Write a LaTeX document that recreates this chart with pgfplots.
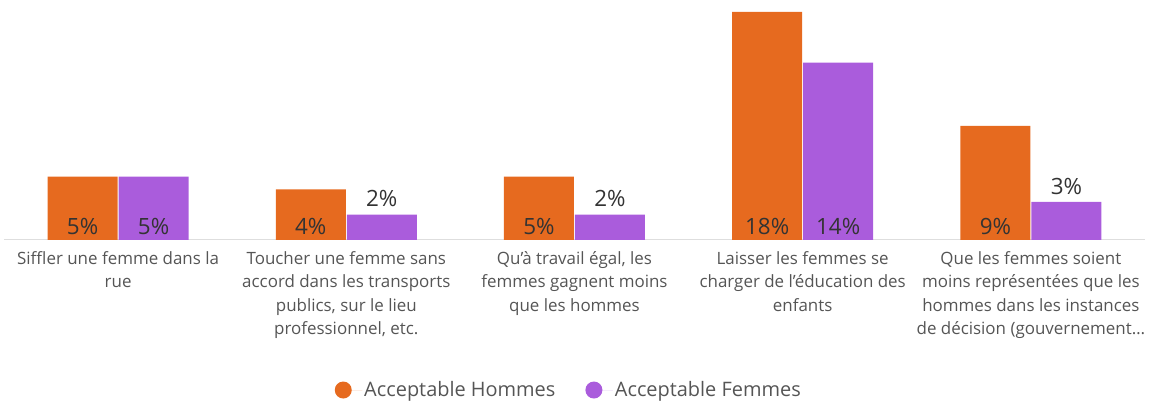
\documentclass[border=0pt]{standalone}
\usepackage{pgfplots}
\pgfplotsset{compat=1.18}
\usepackage{fontspec}
\setmainfont{Open Sans}
\definecolor{orangeH}{HTML}{E66A1F}
\definecolor{purpleF}{HTML}{AA5CDC}
\definecolor{txt}{HTML}{555555}
\definecolor{lbl}{HTML}{333333}
\begin{document}
\begin{tikzpicture}
\path[use as bounding box] (0,0) rectangle (1149bp,405bp);
\begin{axis}[
  at={(4bp,165bp)}, anchor=south west,
  scale only axis, width=1141bp, height=228bp,
  xmin=-0.5, xmax=4.5, ymin=0, ymax=18,
  axis x line=bottom, axis y line=none,
  x axis line style={-, draw=black!13, line width=1bp},
  xtick={0,1,2,3,4}, xtick style={draw=none},
  xticklabels={
    {Siffler une femme dans la\\rue},
    {Toucher une femme sans\\accord dans les transports\\publics, sur le lieu\\professionnel, etc.},
    {Qu’à travail égal, les\\femmes gagnent moins\\que les hommes},
    {Laisser les femmes se\\charger de l’éducation des\\enfants},
    {Que les femmes soient\\moins représentées que les\\hommes dans les instances\\de décision (gouvernement…}},
  xticklabel style={align=center, font=\fontsize{17}{23.5}\selectfont, text=txt, anchor=north, inner sep=0pt, yshift=-9bp},
  ytick=\empty,
  /pgf/number format/assume math mode=true,
  clip=false,
  legend columns=2,
  legend style={at={(0.495,-0.658)}, anchor=center, draw=none, fill=none,
    font=\fontsize{20}{22}\selectfont, text=txt,
    /tikz/every even column/.append style={column sep=28bp}},
  legend cell align=left,
  legend image code/.code={\fill[#1, draw=none] (0bp,0bp) circle (8.5bp); \path (-8.5bp,0bp) -- (19bp,0bp);},
  nodes near coords={\pgfmathprintnumber{\pgfplotspointmeta}\%},
  visualization depends on={rawy \as \yv},
]
\addplot[ybar, bar width=70bp, bar shift=-35.5bp, fill=orangeH, draw=none,
  every node near coord/.append style={font=\fontsize{22.5}{25}\selectfont, text=lbl, anchor=center,
    xshift=-35.5bp, yshift={ifthenelse(\yv<3.5,16,14-12.714*\yv)}}]
  coordinates {(0,5) (1,4) (2,5) (3,18) (4,9)};
\addlegendentry{Acceptable Hommes}
\addplot[ybar, bar width=70bp, bar shift=35.5bp, fill=purpleF, draw=none,
  every node near coord/.append style={font=\fontsize{22.5}{25}\selectfont, text=lbl, anchor=center,
    xshift=35.5bp, yshift={ifthenelse(\yv<3.5,16,14-12.714*\yv)}}]
  coordinates {(0,5) (1,2) (2,2) (3,14) (4,3)};
\addlegendentry{Acceptable Femmes}
\end{axis}
\end{tikzpicture}
\end{document}
